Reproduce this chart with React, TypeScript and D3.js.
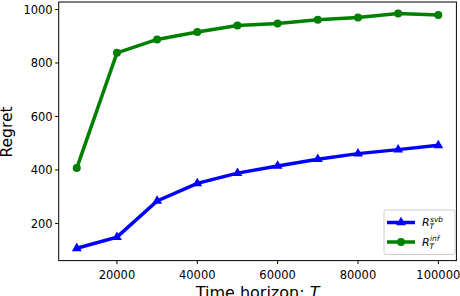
import React from 'react';
import * as d3 from 'd3';

// horizons on the x axis
const horizons = [10000, 20000, 30000, 40000, 50000, 60000, 70000, 80000, 90000, 100000];
// regret series
const svbRegret = [107, 149, 284, 350, 388, 415, 440, 461, 476, 492];
const infRegret = [407, 838, 888, 916, 940, 948, 962, 970, 985, 979];

const xTicks = [20000, 40000, 60000, 80000, 100000];
const yTicks = [200, 400, 600, 800, 1000];

const W = 460;
const H = 296;
const left = 58.7;
const right = 456.4;
const top = 2;
const bottom = 260.6;

const font = 'DejaVu Sans, sans-serif';

const App = () => {
  const x = d3.scaleLinear().domain([5500, 104500]).range([left, right]);
  const y = d3.scaleLinear().domain([61, 1028]).range([bottom, top]);

  const line = d3.line<number>()
    .x((_, i) => x(horizons[i]))
    .y(d => y(d));

  const tri = d3.symbol().type(d3.symbolTriangle).size(42)();
  const blue = '#0000ff';
  const green = '#008000';

  const legendLabel = (sup: string, lx: number, ly: number) => (
    <g fontFamily={font}>
      <text x={lx} y={ly} fontSize={11} fontStyle="italic">R</text>
      <text x={lx + 8} y={ly - 4.5} fontSize={7.5} fontStyle="italic">{sup}</text>
      <text x={lx + 7.5} y={ly + 3} fontSize={7.5} fontStyle="italic">T</text>
    </g>
  );

  return (
    <svg width={W} height={H} style={{ position: 'absolute', left: 0, top: 0 }}>
      <rect width={W} height={H} fill="#fff" />

      {/* lines */}
      <path d={line(infRegret) || ''} fill="none" stroke={green} strokeWidth={3.5} />
      {infRegret.map((v, i) => (
        <circle key={'g' + i} cx={x(horizons[i])} cy={y(v)} r={4} fill={green} />
      ))}
      <path d={line(svbRegret) || ''} fill="none" stroke={blue} strokeWidth={3.5} />
      {svbRegret.map((v, i) => (
        <path key={'b' + i} d={tri || ''} transform={`translate(${x(horizons[i])},${y(v)})`} fill={blue} />
      ))}

      {/* frame */}
      <rect x={left} y={top} width={right - left} height={bottom - top} fill="none" stroke="#000" strokeWidth={1} />

      {/* x axis */}
      {xTicks.map(t => (
        <g key={t}>
          <line x1={x(t)} x2={x(t)} y1={bottom} y2={bottom + 3.5} stroke="#000" />
          <text x={x(t)} y={279} textAnchor="middle" fontSize={11.5} fontFamily={font}>{t}</text>
        </g>
      ))}
      <text x={(left + right) / 2} y={297.5} textAnchor="middle" fontSize={16} fontFamily={font}>
        Time horizon: <tspan fontStyle="italic">T</tspan>
      </text>

      {/* y axis */}
      {yTicks.map(t => (
        <g key={t}>
          <line x1={left - 3.5} x2={left} y1={y(t)} y2={y(t)} stroke="#000" />
          <text x={left - 6} y={y(t) + 4.2} textAnchor="end" fontSize={11.5} fontFamily={font}>{t}</text>
        </g>
      ))}
      <text
        transform={`translate(11.5,132) rotate(-90)`}
        textAnchor="middle"
        fontSize={15.5}
        fontFamily={font}
      >
        Regret
      </text>

      {/* legend */}
      <rect x={384} y={210} width={71} height={44.5} rx={2} fill="#fff" fillOpacity={0.8} stroke="#cccccc" />
      <line x1={387} x2={415} y1={222.5} y2={222.5} stroke={blue} strokeWidth={3.5} />
      <path d={tri || ''} transform="translate(401,222.5)" fill={blue} />
      {legendLabel('svb', 422, 226)}
      <line x1={387} x2={415} y1={242} y2={242} stroke={green} strokeWidth={3.5} />
      <circle cx={401} cy={242} r={4} fill={green} />
      {legendLabel('inf', 422, 245.5)}
    </svg>
  );
};

export default App;
